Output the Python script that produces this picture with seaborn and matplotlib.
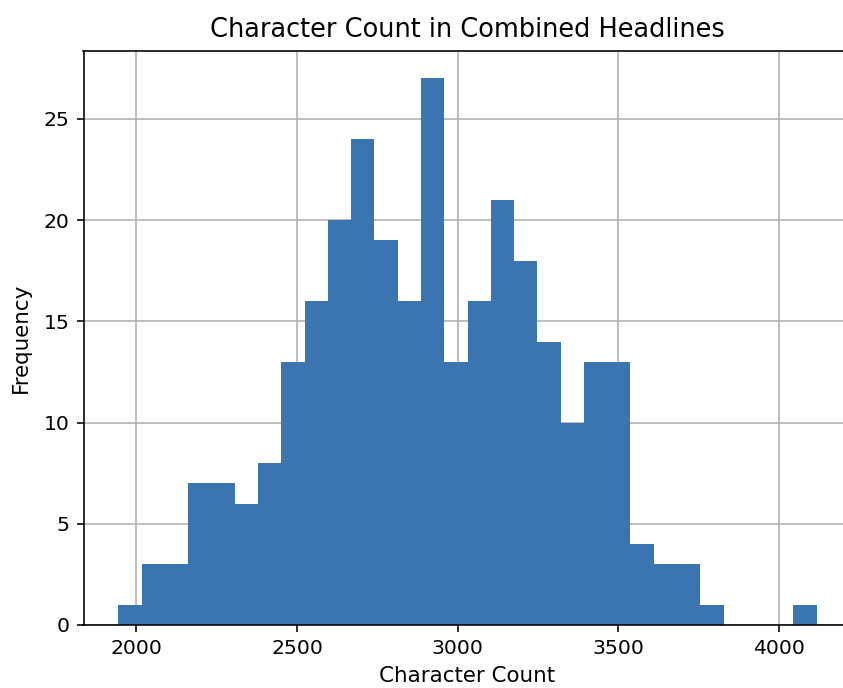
import numpy as np
import pandas as pd
import matplotlib
matplotlib.use("Agg")
import matplotlib.pyplot as plt
import seaborn as sns

# Histogram data (30 equal-width bins)
bin_start = 1944.0
bin_end = 4117.0
n_bins = 30
counts = [1, 3, 3, 7, 7, 6, 8, 13, 16, 20, 24, 19, 16, 27, 13,
          16, 21, 18, 14, 10, 13, 13, 4, 3, 3, 1, 0, 0, 0, 1]

title = "Character Count in Combined Headlines"
xlabel = "Character Count"
ylabel = "Frequency"
bar_color = "#3a75af"

edges = np.linspace(bin_start, bin_end, n_bins + 1)
centers = (edges[:-1] + edges[1:]) / 2
df = pd.DataFrame({"chars": centers, "n": counts})

dpi = 144
fig = plt.figure(figsize=(843 / dpi, 688 / dpi), dpi=dpi)
ax = fig.add_axes([83.5 / 843, 63 / 688, (851.6 - 83.5) / 843, (637 - 63) / 688])

sns.histplot(data=df, x="chars", weights="n", bins=n_bins,
             binrange=(bin_start, bin_end), color=bar_color,
             alpha=1.0, linewidth=0, ax=ax, zorder=2)

ax.set_axisbelow(True)
ax.grid(True, color="#b0b0b0", linewidth=0.8)
ax.set_xlim(bin_start - 0.05 * (bin_end - bin_start), bin_end + 0.05 * (bin_end - bin_start))
ax.set_ylim(0, max(counts) * 1.05)
ax.set_xticks([2000, 2500, 3000, 3500, 4000])
ax.set_yticks([0, 5, 10, 15, 20, 25])
ax.tick_params(labelsize=10.2)
ax.set_title(title, fontsize=12.8, pad=7)
ax.set_xlabel(xlabel, fontsize=10.7)
ax.set_ylabel(ylabel, fontsize=10.7, labelpad=6.5)

fig.savefig("out.png", dpi=dpi)
